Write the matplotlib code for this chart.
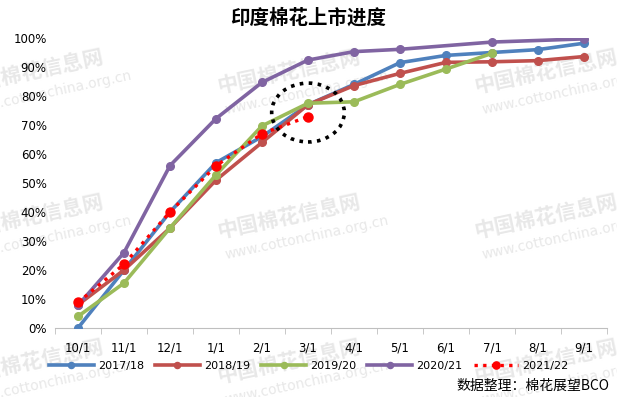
import numpy as np
import matplotlib
matplotlib.use("Agg")
import matplotlib.pyplot as plt
from matplotlib.patches import Ellipse

plt.rcParams["font.family"] = ["DejaVu Sans", "Noto Sans CJK SC"]

months = ["10/1", "11/1", "12/1", "1/1", "2/1", "3/1", "4/1", "5/1", "6/1", "7/1", "8/1", "9/1"]

s2017 = [0, 20, 40, 57, 66, 77, 84, 91.5, 94, 95, 96, 98.2]
s2018 = [8, 20, 34.5, 51, 64, 77, 83.6, 87.8, 91.6, 91.8, 92.2, 93.6]
s2019 = [4, 15.5, 34.5, 52.8, 69.7, 77.5, 78, 84, 89.3, 94.7, None, None]
s2020 = [7.8, 26, 56, 72.2, 84.7, 92.4, 95.3, 96.1, None, 98.6, None, 99.7]
s2021 = [8.8, 22, 40, 55.9, 67, 72.9, None, None, None, None, None, None]

series = [
    ("2017/18", s2017, "#4F81BD"),
    ("2018/19", s2018, "#C0504D"),
    ("2019/20", s2019, "#9BBB59"),
    ("2020/21", s2020, "#8064A2"),
]

W, H = 617, 397
fig = plt.figure(figsize=(W / 100, H / 100), dpi=100)

# background layer for the site watermarks (pixel coords, y from top)
bg = fig.add_axes([0, 0, 1, 1], zorder=-1)
bg.set_xlim(0, W)
bg.set_ylim(H, 0)
bg.axis("off")
for x0 in [-82, 175, 432]:
    for y0 in [88, 233, 378]:
        bg.text(x0 + 42, y0, "中国棉花信息网", fontsize=15, fontweight="bold", color="#e8e8e8",
                rotation=12, rotation_mode="anchor", ha="left", va="center",
                family="Noto Sans CJK SC")
        bg.text(x0 + 50, y0 + 22, "www.cottonchina.org.cn", fontsize=10, color="#e8e8e8",
                rotation=12, rotation_mode="anchor", ha="left", va="center")

ax = fig.add_axes([55 / W, 1 - 328 / H, 552 / W, 290 / H])
ax.patch.set_alpha(0)

x = np.arange(len(months))
for name, vals, color in series:
    v = np.array([np.nan if a is None else a for a in vals], dtype=float) / 100
    ok = ~np.isnan(v)
    ax.plot(x[ok], v[ok], color=color, linewidth=2.6, marker="o", markersize=5.5,
            label=name, zorder=3)

v = np.array([np.nan if a is None else a for a in s2021], dtype=float) / 100
ok = ~np.isnan(v)
ax.plot(x[ok], v[ok], color="#FF0000", linewidth=2.4, linestyle=(0, (1, 1.6)),
        marker="o", markersize=6.5, label="2021/22", zorder=4)

ax.add_patch(Ellipse((5, 0.743), 1.58, 0.203, fill=False, edgecolor="black",
                     linewidth=2.6, linestyle=(0, (1, 1.5)), zorder=5))

ax.set_xlim(-0.5, 11.5)
ax.set_ylim(0, 1.0)
yt = np.arange(0, 1.01, 0.1)
ax.set_yticks(yt)
ax.set_yticklabels([f"{int(round(t * 100))}%" for t in yt], fontsize=8.5)
ax.set_xticks(x)
ax.set_xticklabels(months, fontsize=8.5)
ax.set_xticks(np.arange(-0.5, 11.6, 1), minor=True)
ax.tick_params(axis="x", which="major", length=0, pad=10)
ax.tick_params(axis="x", which="minor", length=4, color="#bfbfbf")
ax.tick_params(axis="y", length=0, pad=6)
for side in ["top", "right", "left"]:
    ax.spines[side].set_visible(False)
ax.spines["bottom"].set_color("#bfbfbf")

fig.text(0.5, 1 - 18 / H, "印度棉花上市进度", ha="center", va="center", fontsize=14,
         fontweight="bold", family="Noto Sans CJK SC")

ax.legend(loc="center", bbox_to_anchor=(0.46, -0.131), ncol=5, frameon=False,
          fontsize=8, handlelength=4.0, columnspacing=1.0, handletextpad=0.4,
          markerscale=0.8)

fig.text(1 - 8 / W, 1 - 386 / H, "数据整理：棉花展望BCO", ha="right", va="center", fontsize=10,
         family="Noto Sans CJK SC")

fig.savefig("out.png", dpi=100)
